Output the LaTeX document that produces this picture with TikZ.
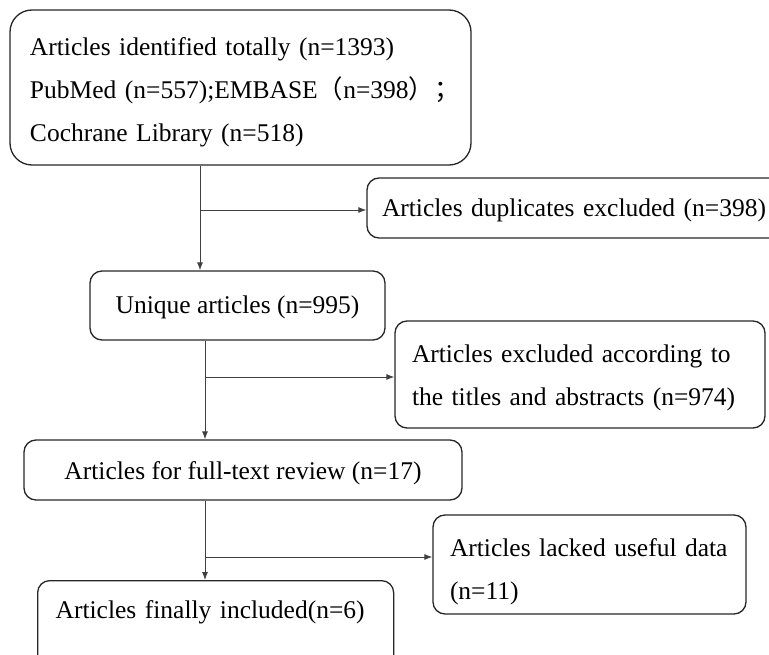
\documentclass[tikz,border=0pt]{standalone}
\usepackage{fontspec}
\setmainfont{Liberation Serif}
\newfontfamily\cjkfont{Noto Sans CJK SC}
\usetikzlibrary{arrows.meta}
\begin{document}
\begin{tikzpicture}[x=1pt,y=-1pt,
  box/.style={draw=black!85,line width=1.3pt,rounded corners=12pt,inner ysep=0pt,align=left,font=\fontsize{25.5}{43}\selectfont},
  conn/.style={draw=black!75,line width=0.9pt,-{Latex[length=8pt,width=6pt]}}]
\useasboundingbox (0,0) rectangle (769,655);
\node[box,rounded corners=22pt,minimum height=155pt,text width=421pt,inner xsep=20pt] (b1) at (240.5,87.5)
  {\mbox{\rule{0pt}{28pt}Articles identified totally (n=1393)}\\\mbox{PubMed (n=557);EMBASE{\cjkfont （}n=398{\cjkfont ）；}}\\\mbox{Cochrane Library (n=518)}};
\node[box,minimum height=60pt,text width=393pt,inner xsep=15pt] (dup) at (578.5,208) {\mbox{\rule{0pt}{22pt}Articles duplicates excluded (n=398)}};
\node[box,minimum width=295pt,minimum height=69pt,align=center] (uniq) at (237.5,305.5) {\rule{0pt}{22pt}Unique articles (n=995)};
\node[box,minimum height=107pt,text width=336pt,inner xsep=17pt] (excl) at (580,374.5)
  {\mbox{\rule{0pt}{24pt}Articles excluded according to}\\\mbox{the titles and abstracts (n=974)}};
\node[box,minimum width=438pt,minimum height=60pt,align=center] (full) at (243,470) {\rule{0pt}{24pt}Articles for full-text review (n=17)};
\node[box,minimum height=99pt,text width=279pt,inner xsep=17pt] (lack) at (589.5,564.5)
  {\mbox{\rule{0pt}{32pt}Articles lacked useful data}\\\mbox{(n=11)}};
\node[box,anchor=north west,text width=320pt,inner xsep=18pt,inner ysep=0pt,text height=38pt,text depth=52pt] (fin) at (37,580)
  {Articles finally included(n=6)};
\coordinate (c1) at (200,210);
\coordinate (c2) at (205,377);
\coordinate (c3) at (205,557);
\draw[conn] (b1.south -| c1) -- (uniq.north -| c1);
\draw[conn] (c1) -- (dup.west |- c1);
\draw[conn] (uniq.south -| c2) -- (full.north -| c2);
\draw[conn] (c2) -- (excl.west |- c2);
\draw[conn] (full.south -| c3) -- (fin.north -| c3);
\draw[conn] (c3) -- (lack.west |- c3);
\end{tikzpicture}
\end{document}
